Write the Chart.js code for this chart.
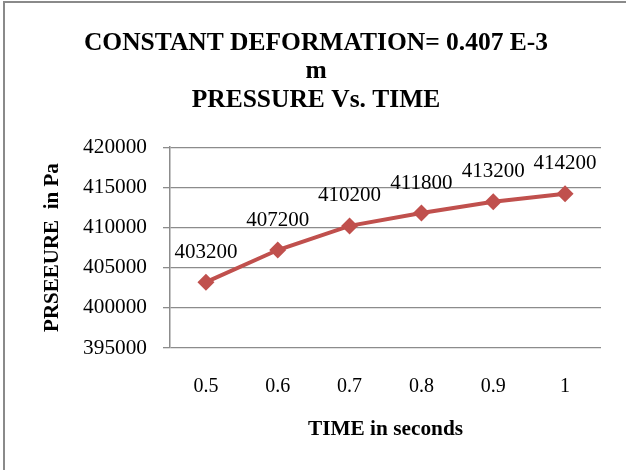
<!DOCTYPE html>
<html>
<head>
<meta charset="utf-8">
<script src="https://cdn.jsdelivr.net/npm/chart.js@4"></script>
<style>
  html, body { margin: 0; padding: 0; background: #fff; }
  #wrap { width: 626px; height: 470px; position: relative; }
</style>
</head>
<body>
<div id="wrap"><canvas id="pressureChart" width="626" height="470"></canvas></div>
<script>
// chart data
const timeLabels = ['0.5', '0.6', '0.7', '0.8', '0.9', '1'];
const pressureValues = [403200, 407200, 410200, 411800, 413200, 414200];
const titleLines = ['CONSTANT DEFORMATION= 0.407 E-3', 'm', 'PRESSURE Vs. TIME'];
const yMin = 395000, yMax = 420000, yStep = 5000;

const SERIF = "'Liberation Serif', 'Times New Roman', serif";
const RED = '#C0504D';
const GRID = '#8c8c8c';

// value labels above each point (no datalabels plugin offline)
const valueLabels = {
    id: 'valueLabels',
    afterDatasetsDraw(chart) {
        const ctx = chart.ctx;
        const meta = chart.getDatasetMeta(0);
        ctx.save();
        ctx.font = '21px ' + SERIF;
        ctx.fillStyle = '#000';
        ctx.textAlign = 'center';
        ctx.textBaseline = 'middle';
        meta.data.forEach((pt, i) => {
            ctx.fillText(String(pressureValues[i]), pt.x, pt.y - 30);
        });
        ctx.restore();
    }
};

// frame round the picture (left and top edges only are visible)
const frame = {
    id: 'frame',
    beforeDraw(chart) {
        const ctx = chart.ctx;
        ctx.save();
        ctx.strokeStyle = '#8a8a8a';
        ctx.lineWidth = 2;
        ctx.beginPath();
        ctx.moveTo(4, 470);
        ctx.lineTo(4, 2);
        ctx.lineTo(626, 2);
        ctx.stroke();
        ctx.restore();
    }
};

new Chart(document.getElementById('pressureChart'), {
    type: 'line',
    data: {
        labels: timeLabels,
        datasets: [{
            label: 'Pressure',
            data: pressureValues,
            borderColor: RED,
            backgroundColor: RED,
            borderWidth: 4,
            tension: 0,
            pointStyle: 'rectRot',
            pointRadius: 8.5,
            pointHoverRadius: 8.5,
            pointBorderWidth: 0,
            yAxisID: 'y'
        }]
    },
    options: {
        responsive: false,
        animation: false,
        devicePixelRatio: 1,
        layout: { padding: { left: 6, right: 0, top: 0, bottom: 0 } },
        plugins: {
            legend: { display: false },
            tooltip: { enabled: false },
            title: {
                display: true,
                text: titleLines,
                color: '#000',
                font: { family: SERIF, size: 25.5, weight: 'bold', lineHeight: 1.12 },
                padding: { top: 29, bottom: 32.5 }
            }
        },
        scales: {
            x: {
                offset: true,
                grid: { display: false, drawTicks: false },
                border: { display: false },
                ticks: {
                    color: '#000',
                    padding: 27,
                    font: { family: SERIF, size: 20 }
                },
                title: {
                    display: true,
                    text: 'TIME in seconds',
                    color: '#000',
                    padding: 28,
                    font: { family: SERIF, size: 21.3, weight: 'bold', lineHeight: 1.2 }
                },
                afterFit(scale) { scale.height = 122; }
            },
            y: {
                min: yMin,
                max: yMax,
                grid: { color: GRID, lineWidth: 1.3, tickLength: 7, drawTicks: true },
                border: { display: true, color: GRID, width: 1.5 },
                ticks: {
                    stepSize: yStep,
                    color: '#000',
                    padding: 16,
                    font: { family: SERIF, size: 21.3 },
                    callback: v => String(v)
                },
                title: {
                    display: true,
                    text: 'PRSEEURE  in Pa',
                    color: '#000',
                    padding: 34,
                    font: { family: SERIF, size: 21, weight: 'bold', lineHeight: 1.2 }
                },
                afterFit(scale) { scale.width = 164; }
            },
            // empty right-hand margin so the title centres on the whole picture
            yRight: {
                position: 'right',
                display: true,
                grid: { display: false },
                border: { display: false },
                ticks: { display: false },
                afterFit(scale) { scale.width = 25; }
            }
        }
    },
    plugins: [frame, valueLabels]
});
</script>
</body>
</html>
